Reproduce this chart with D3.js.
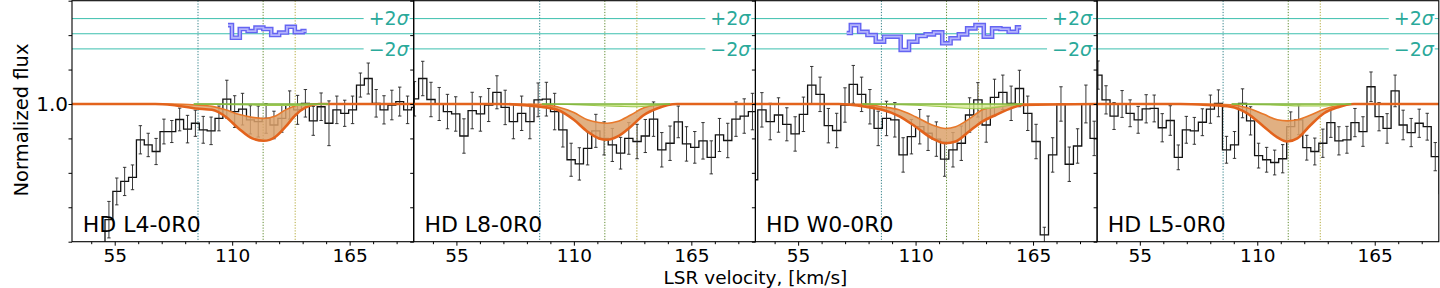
<!DOCTYPE html>
<html>
<head>
<meta charset="utf-8">
<script src="https://cdn.jsdelivr.net/npm/d3@7"></script>
<style>
body { margin: 0; background: #fff; }
svg { display: block; font-family: "DejaVu Sans", sans-serif; }
</style>
</head>
<body>
<svg id="chart" width="1440" height="288"></svg>
<script>
// ---- data ----
var panelNames = ['HD L4-0R0', 'HD L8-0R0', 'HD W0-0R0', 'HD L5-0R0'];
var binStart = [35.73, 33.44, 32.21, 33.54];   // km/s, left edge of first bin
var binWidth = [3.68, 3.86, 3.89, 3.76];       // km/s

var fluxL4 = [0.40, 0.42, 0.45, 0.50, 0.664, 0.746, 0.775, 0.787, 0.896, 0.881,
              0.862, 0.92, 0.92, 0.955, 0.927, 0.944, 0.925, 0.922, 0.958, 1.014,
              0.978, 0.985, 0.954, 0.949, 0.958, 0.939, 0.958, 0.997, 0.983, 1.002,
              0.951, 0.992, 0.944, 0.983, 0.973, 0.983, 1.055, 1.074, 1.002, 0.983,
              0.997, 1.007, 0.983, 0.99];
var errL4 = [0.05, 0.05, 0.05, 0.05, 0.053, 0.039, 0.041, 0.036, 0.041, 0.034,
             0.038, 0.036, 0.032, 0.033, 0.04, 0.038, 0.039, 0.04, 0.036, 0.055,
             0.046, 0.046, 0.041, 0.045, 0.043, 0.04, 0.04, 0.041, 0.042, 0.04,
             0.042, 0.04, 0.065, 0.04, 0.038, 0.04, 0.035, 0.045, 0.04, 0.041,
             0.043, 0.042, 0.04, 0.04];

var fluxL8 = [1.015, 1.074, 1.013, 1.0, 0.978, 0.971, 0.907, 0.981, 0.971, 0.997,
              1.034, 0.99, 0.949, 0.973, 0.949, 1.012, 1.014, 0.978, 0.925, 0.838,
              0.826, 0.871, 0.922, 0.9, 0.881, 0.857, 0.9, 0.891, 0.907, 0.956,
              0.867, 0.886, 0.948, 0.884, 0.874, 0.893, 0.845, 0.91, 0.894, 0.956,
              0.965, 0.978];
var errL8 = [0.05, 0.05, 0.05, 0.048, 0.05, 0.05, 0.05, 0.053, 0.05, 0.048,
             0.048, 0.05, 0.05, 0.05, 0.05, 0.049, 0.049, 0.053, 0.05, 0.048,
             0.047, 0.048, 0.048, 0.048, 0.048, 0.046, 0.046, 0.05, 0.048, 0.05,
             0.05, 0.05, 0.046, 0.05, 0.046, 0.053, 0.048, 0.048, 0.05, 0.05,
             0.05, 0.053];

var fluxW0 = [0.78, 0.983, 0.949, 0.968, 0.941, 0.913, 0.97, 1.055, 1.028, 0.937,
              0.923, 0.997, 1.057, 1.028, 0.992, 0.929, 0.958, 0.954, 0.852, 0.905,
              0.934, 0.915, 0.898, 0.84, 0.867, 0.886, 0.968, 1.012, 0.939, 1.019,
              1.034, 1.002, 1.045, 0.973, 0.891, 0.62, 0.852, 1.0, 0.825, 0.878,
              1.0, 0.9];
var errW0 = [0.05, 0.05, 0.053, 0.05, 0.048, 0.05, 0.05, 0.054, 0.05, 0.05,
             0.05, 0.05, 0.055, 0.05, 0.05, 0.05, 0.05, 0.05, 0.05, 0.05,
             0.05, 0.05, 0.05, 0.05, 0.05, 0.05, 0.05, 0.05, 0.05, 0.053,
             0.05, 0.05, 0.053, 0.05, 0.05, 0.022, 0.05, 0.05, 0.05, 0.05,
             0.055, 0.05];

var fluxL5 = [1.084, 1.012, 0.965, 1.0, 0.973, 0.954, 0.986, 0.987, 0.931, 0.952,
              0.845, 0.925, 0.922, 0.947, 0.985, 1.002, 0.867, 0.881, 1.002, 0.951,
              0.85, 0.838, 0.83, 0.841, 0.934, 0.954, 0.873, 0.862, 0.886, 0.946,
              0.893, 0.896, 0.946, 0.92, 1.05, 0.963, 0.929, 1.038, 0.939, 0.917,
              0.944, 0.934, 0.847, 0.74];
var errL5 = [0.041, 0.041, 0.039, 0.039, 0.039, 0.039, 0.041, 0.039, 0.041, 0.043,
             0.036, 0.039, 0.039, 0.039, 0.041, 0.039, 0.039, 0.039, 0.042, 0.041,
             0.036, 0.036, 0.036, 0.041, 0.043, 0.043, 0.036, 0.039, 0.041, 0.043,
             0.041, 0.039, 0.041, 0.043, 0.043, 0.041, 0.043, 0.046, 0.043, 0.041,
             0.041, 0.039, 0.041, 0.04];

// model (fit) envelope, sampled from the figure
var modelVelL4 = [35, 74, 82, 93, 100.6, 106.9, 113, 119.4, 124.8, 130.3, 135, 139.7, 144.4, 150.6, 195];
var modelLoL4  = [1.0, 1.0, 0.997, 0.987, 0.983, 0.963, 0.929, 0.9, 0.893, 0.905, 0.934, 0.968, 0.99, 1.0, 1.0];
var modelHiL4  = [1.0, 1.0, 1.0, 0.997, 0.993, 0.983, 0.97, 0.961, 0.958, 0.965, 0.983, 0.995, 1.0, 1.0, 1.0];

var modelVelL8 = [35, 74, 94.4, 102.2, 110, 116.3, 121.7, 125.6, 130.3, 136.6, 142.8, 149, 158.4, 195];
var modelLoL8  = [1.0, 1.0, 0.992, 0.983, 0.954, 0.92, 0.9, 0.896, 0.905, 0.934, 0.968, 0.987, 1.0, 1.0];
var modelHiL8  = [1.0, 1.0, 0.999, 0.992, 0.975, 0.954, 0.946, 0.944, 0.949, 0.968, 0.989, 0.997, 1.0, 1.0];

var modelVelW0 = [35, 74, 86.6, 94.4, 102.2, 110, 117.8, 124, 128.75, 135, 141.25, 147.5, 153.75, 160, 195];
var modelLoW0  = [1.0, 1.0, 0.992, 0.983, 0.965, 0.934, 0.9, 0.886, 0.891, 0.92, 0.949, 0.968, 0.985, 0.997, 1.0];
var modelHiW0  = [1.0, 1.0, 0.999, 0.992, 0.983, 0.963, 0.939, 0.929, 0.934, 0.956, 0.983, 0.992, 0.997, 1.0, 1.0];

var modelVelL5 = [35, 74, 86.6, 97.5, 105.3, 113.1, 119.4, 124, 128.75, 135, 141.25, 147.5, 155.3, 195];
var modelLoL5  = [1.0, 1.0, 0.997, 0.992, 0.973, 0.934, 0.903, 0.891, 0.9, 0.939, 0.973, 0.99, 1.0, 1.0];
var modelHiL5  = [1.0, 1.0, 1.0, 0.998, 0.989, 0.97, 0.954, 0.951, 0.954, 0.968, 0.985, 0.995, 1.0, 1.0];

// weaker (green) component
var greenVelL4 = [92, 105, 118, 130, 140, 148, 155];
var greenLoL4  = [1.0, 0.999, 0.997, 0.996, 0.996, 0.998, 1.0];
var greenVelL8 = [95, 110, 122, 132, 140, 147, 155];
var greenLoL8  = [1.0, 0.998, 0.995, 0.993, 0.992, 0.996, 1.0];
var greenVelW0 = [85, 100, 115, 128, 138, 145, 152, 160];
var greenLoW0  = [1.0, 0.998, 0.995, 0.99, 0.986, 0.988, 0.994, 1.0];
var greenVelL5 = [98, 110, 122, 132, 140, 147, 154];
var greenLoL5  = [1.0, 0.998, 0.996, 0.994, 0.994, 0.997, 1.0];

// residuals in sigma units (only shown in two panels)
var residStartL4 = 108.05;
var residL4 = [1.14, -0.53, 0.62, 0.36, 0.82, 0.62, -0.17, 0.16, 0.92, 0.22, 0.36];
var residStartW0 = 77.75;
var residW0 = [0.09, 1.14, 0.26, -0.17, -1.05, -0.39, -0.39, -2.14, -1.05, -0.3,
               -0.08, 0.18, -1.26, -0.6, -0.08, 0.71, 1.14, -0.39, 0.71, 0.62,
               0.26, 0.84];

var compVel = [94, 124.5, 139.5];
var compColors = ['#2f7f86', '#5f8a2e', '#b3a93a'];

var xMajor = [55, 110, 165];
var xMinor = [44, 66, 77, 88, 99, 121, 132, 143, 154, 176, 187];
var yTicks = [0.6, 0.7, 0.8, 0.9, 1.0, 1.1, 1.2, 1.3];

var residZero = 1.204, residSigma = 0.022;

var panels = [
  {name: panelNames[0], v0: binStart[0], dv: binWidth[0], flux: fluxL4, err: errL4,
   mv: modelVelL4, mlo: modelLoL4, mhi: modelHiL4, gv: greenVelL4, glo: greenLoL4,
   rs: residStartL4, res: residL4},
  {name: panelNames[1], v0: binStart[1], dv: binWidth[1], flux: fluxL8, err: errL8,
   mv: modelVelL8, mlo: modelLoL8, mhi: modelHiL8, gv: greenVelL8, glo: greenLoL8,
   rs: null, res: null},
  {name: panelNames[2], v0: binStart[2], dv: binWidth[2], flux: fluxW0, err: errW0,
   mv: modelVelW0, mlo: modelLoW0, mhi: modelHiW0, gv: greenVelW0, glo: greenLoW0,
   rs: residStartW0, res: residW0},
  {name: panelNames[3], v0: binStart[3], dv: binWidth[3], flux: fluxL5, err: errL5,
   mv: modelVelL5, mlo: modelLoL5, mhi: modelHiL5, gv: greenVelL5, glo: greenLoL5,
   rs: null, res: null}
];

// ---- layout ----
var left0 = 72, pw = 341.7, plotTop = 0.7, plotBottom = 241.7;
var svg = d3.select('#chart');

var x = d3.scaleLinear().domain([35, 195]).range([0, pw]);
var y = d3.scaleLinear().domain([0.6, 1.3]).range([plotBottom, plotTop]);

var teal = '#3cbfae', tealText = '#2aa99a';

panels.forEach(function(p, i) {
  var g = svg.append('g').attr('transform', 'translate(' + (left0 + i * pw) + ',0)');

  g.append('clipPath').attr('id', 'clip' + i)
    .append('rect').attr('x', 0).attr('y', plotTop).attr('width', pw).attr('height', plotBottom - plotTop);

  var plot = g.append('g').attr('clip-path', 'url(#clip' + i + ')');

  // sigma reference lines
  [residZero + 2 * residSigma, residZero, residZero - 2 * residSigma].forEach(function(lv) {
    plot.append('line')
      .attr('x1', 0).attr('x2', pw)
      .attr('y1', y(lv)).attr('y2', y(lv))
      .attr('stroke', teal).attr('stroke-width', 1);
  });

  // component velocities
  compVel.forEach(function(v, k) {
    plot.append('line')
      .attr('x1', x(v)).attr('x2', x(v))
      .attr('y1', plotTop).attr('y2', plotBottom)
      .attr('stroke', compColors[k]).attr('stroke-width', 1)
      .attr('stroke-dasharray', '1.2,1.6');
  });

  // data histogram
  var pts = p.flux.map(function(f, k) { return [p.v0 + k * p.dv, f]; });
  pts.push([p.v0 + p.flux.length * p.dv, p.flux[p.flux.length - 1]]);
  var step = d3.line()
    .x(function(d) { return x(d[0]); })
    .y(function(d) { return y(d[1]); })
    .curve(d3.curveStepAfter);
  plot.append('path').attr('d', step(pts))
    .attr('fill', 'none').attr('stroke', '#111').attr('stroke-width', 1.3);

  // error bars
  var eb = plot.append('g').attr('stroke', '#222').attr('stroke-width', 0.9);
  p.flux.forEach(function(f, k) {
    var c = x(p.v0 + (k + 0.5) * p.dv);
    var e = p.err[k];
    eb.append('line').attr('x1', c).attr('x2', c).attr('y1', y(f - e)).attr('y2', y(f + e));
    eb.append('line').attr('x1', c - 1.7).attr('x2', c + 1.7).attr('y1', y(f - e)).attr('y2', y(f - e));
    eb.append('line').attr('x1', c - 1.7).attr('x2', c + 1.7).attr('y1', y(f + e)).attr('y2', y(f + e));
  });

  // model envelope
  var mdat = p.mv.map(function(v, k) { return {v: v, lo: p.mlo[k], hi: p.mhi[k]}; });
  var area = d3.area()
    .x(function(d) { return x(d.v); })
    .y0(function(d) { return y(d.lo); })
    .y1(function(d) { return y(d.hi); })
    .curve(d3.curveMonotoneX);
  plot.append('path').attr('d', area(mdat))
    .attr('fill', '#dca26c').attr('fill-opacity', 0.85);
  var lineLo = d3.line().x(function(d) { return x(d.v); }).y(function(d) { return y(d.lo); }).curve(d3.curveMonotoneX);
  var lineHi = d3.line().x(function(d) { return x(d.v); }).y(function(d) { return y(d.hi); }).curve(d3.curveMonotoneX);
  plot.append('path').attr('d', lineHi(mdat))
    .attr('fill', 'none').attr('stroke', '#e8782a').attr('stroke-width', 1.6);
  plot.append('path').attr('d', lineLo(mdat))
    .attr('fill', 'none').attr('stroke', '#e3631c').attr('stroke-width', 2.6);

  // green component
  var gdat = p.gv.map(function(v, k) { return {v: v, lo: p.glo[k], hi: 1.0}; });
  plot.append('path').attr('d', area(gdat))
    .attr('fill', '#d6ea8e').attr('fill-opacity', 0.8);
  plot.append('path').attr('d', lineLo(gdat))
    .attr('fill', 'none').attr('stroke', '#9cc94f').attr('stroke-width', 1.1);
  plot.append('path').attr('d', lineHi(gdat))
    .attr('fill', 'none').attr('stroke', '#7cb33a').attr('stroke-width', 1.6);

  // residuals
  if (p.res) {
    var rpts = p.res.map(function(r, k) { return [p.rs + k * p.dv, residZero + r * residSigma]; });
    var rline = d3.line().x(function(d) { return x(d[0]); }).y(function(d) { return y(d[1]); })
      .curve(d3.curveStep);
    plot.append('path').attr('d', rline(rpts))
      .attr('fill', 'none').attr('stroke', '#6464f2').attr('stroke-width', 4.6);
    plot.append('path').attr('d', rline(rpts))
      .attr('fill', 'none').attr('stroke', '#b4b4fb').attr('stroke-width', 1.8);
  }

  // sigma labels
  [['+2', residZero + 2 * residSigma], ['\u22122', residZero - 2 * residSigma]].forEach(function(s) {
    var t = g.append('text')
      .attr('x', pw - 5).attr('y', y(s[1]))
      .attr('dy', '0.36em')
      .attr('text-anchor', 'end')
      .attr('font-size', 19)
      .attr('fill', tealText);
    t.append('tspan').text(s[0]);
    t.append('tspan').attr('font-style', 'italic').text('\u03c3');
    var bb = t.node().getBBox();
    g.insert('rect', function() { return t.node(); })
      .attr('x', bb.x - 5).attr('y', y(s[1]) - 2).attr('width', bb.width + 5).attr('height', 4)
      .attr('fill', '#fff');
  });

  // panel name
  g.append('text')
    .attr('x', 10.7).attr('y', 231.5)
    .attr('font-size', 22)
    .attr('fill', '#000')
    .text(p.name);

  // axes
  var xa = g.append('g').attr('transform', 'translate(0,' + plotBottom + ')')
    .call(d3.axisBottom(x).tickValues(xMajor).tickSize(4).tickPadding(3).tickFormat(d3.format('d')));
  xa.select('.domain').remove();
  xa.selectAll('text').attr('font-size', 18.5).attr('font-family', 'DejaVu Sans').attr('fill', '#000');
  var xm = g.append('g').attr('transform', 'translate(0,' + plotBottom + ')')
    .call(d3.axisBottom(x).tickValues(xMinor).tickSize(2.5).tickFormat(''));
  xm.select('.domain').remove();

  var ya = g.append('g')
    .call(d3.axisLeft(y).tickValues(yTicks).tickSize(3.5).tickPadding(0.5)
      .tickFormat(function(d) { return (i === 0 && Math.abs(d - 1) < 1e-9) ? '1.0' : ''; }));
  ya.select('.domain').remove();
  ya.selectAll('text').attr('font-size', 20).attr('font-family', 'DejaVu Sans').attr('fill', '#000');

  // frame
  g.append('rect')
    .attr('x', 0).attr('y', plotTop).attr('width', pw).attr('height', plotBottom - plotTop)
    .attr('fill', 'none').attr('stroke', '#000').attr('stroke-width', 1.1);
});

// axis titles
svg.append('text')
  .attr('transform', 'translate(28,120) rotate(-90)')
  .attr('text-anchor', 'middle')
  .attr('font-size', 19.5)
  .text('Normalized flux');

svg.append('text')
  .attr('x', left0 + 2 * pw).attr('y', 283.5)
  .attr('text-anchor', 'middle')
  .attr('font-size', 18.5)
  .text('LSR velocity, [km/s]');
</script>
</body>
</html>
